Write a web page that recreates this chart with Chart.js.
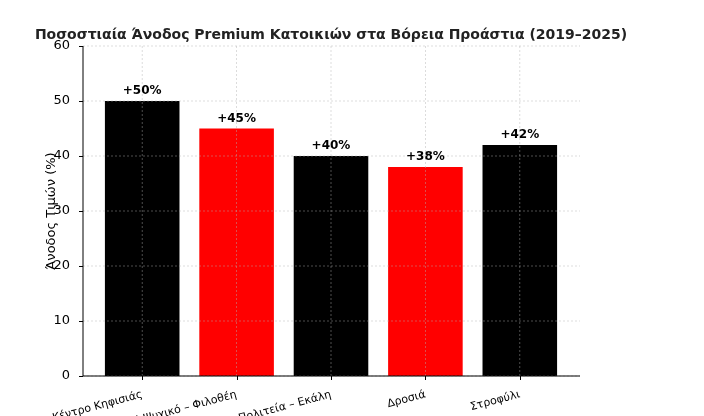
<!DOCTYPE html>
<html><head><meta charset="utf-8">
<script src="https://cdn.jsdelivr.net/npm/chart.js@4/dist/chart.umd.min.js"></script>
<style>html,body{margin:0;padding:0;background:#fff}#w{width:704px;height:416px}</style>
</head><body><div id="w"><canvas id="c"></canvas></div>
<script>
const categories = ["Κέντρο Κηφισιάς","Παλαιό Ψυχικό – Φιλοθέη","Πολιτεία – Εκάλη","Δροσιά","Στροφύλι"];
const values = [50,45,40,38,42];
const valueLabels = ["+50%","+45%","+40%","+38%","+42%"];
const colors = ["#000000","#ff0000","#000000","#ff0000","#000000"];
const F = "DejaVu Sans";
const AX_L = 83, AX_R = 580;
const overlay = {
  id:'overlay',
  afterDatasetsDraw(ch){
    const ctx=ch.ctx, a=ch.chartArea, x=ch.scales.x, y=ch.scales.y;
    ctx.save();
    ctx.strokeStyle='rgba(176,176,176,0.55)'; ctx.lineWidth=0.8; ctx.setLineDash([2,2]);
    y.ticks.forEach((t,i)=>{const py=y.getPixelForTick(i);ctx.beginPath();ctx.moveTo(AX_L,py);ctx.lineTo(AX_R,py);ctx.stroke();});
    x.ticks.forEach((t,i)=>{const px=x.getPixelForTick(i);ctx.beginPath();ctx.moveTo(px,a.top);ctx.lineTo(px,a.bottom);ctx.stroke();});
    ctx.setLineDash([]);
    ctx.strokeStyle='#000'; ctx.lineWidth=1;
    ctx.beginPath();ctx.moveTo(AX_L,a.top);ctx.lineTo(AX_L,a.bottom);ctx.lineTo(AX_R,a.bottom);ctx.stroke();
    y.ticks.forEach((t,i)=>{const py=Math.round(y.getPixelForTick(i))+0.5;ctx.beginPath();ctx.moveTo(AX_L-4,py);ctx.lineTo(AX_L,py);ctx.stroke();});
    x.ticks.forEach((t,i)=>{const px=Math.round(x.getPixelForTick(i))+0.5;ctx.beginPath();ctx.moveTo(px,a.bottom);ctx.lineTo(px,a.bottom+4);ctx.stroke();});
    ctx.fillStyle='#000'; ctx.font='bold 12px "'+F+'"'; ctx.textAlign='center'; ctx.textBaseline='bottom';
    const m=ch.getDatasetMeta(0);
    m.data.forEach((b,i)=>ctx.fillText(valueLabels[i],b.x,b.y-4));
    ctx.font='bold 14px "'+F+'"'; ctx.fillStyle='#222'; ctx.textBaseline='middle';
    ctx.fillText("Ποσοστιαία Άνοδος Premium Κατοικιών στα Βόρεια Προάστια (2019–2025)",331,35);
    ctx.translate(52,(a.top+a.bottom)/2); ctx.rotate(-Math.PI/2);
    ctx.font='13px "'+F+'"'; ctx.fillStyle='#000';
    ctx.fillText("Άνοδος Τιμών (%)",0,0);
    ctx.restore();
  }
};
new Chart(document.getElementById('c'),{
  type:'bar',
  data:{labels:categories,datasets:[{data:values,backgroundColor:colors,barPercentage:0.79,categoryPercentage:1}]},
  options:{
    responsive:true,maintainAspectRatio:false,animation:false,
    layout:{padding:{top:46,right:137,left:0,bottom:0}},
    plugins:{legend:{display:false},tooltip:{enabled:false}},
    scales:{
      x:{grid:{display:false},border:{display:false},
         ticks:{color:'#000',font:{family:F,size:11},maxRotation:15,minRotation:15,autoSkip:false,padding:4},
         afterFit(s){s.height=40;}},
      y:{min:0,max:60,grid:{display:false},border:{display:false},
         ticks:{stepSize:10,color:'#000',font:{family:F,size:13},padding:17},
         afterFit(s){s.width=95;}}
    }
  },
  plugins:[overlay]
});
</script></body></html>
